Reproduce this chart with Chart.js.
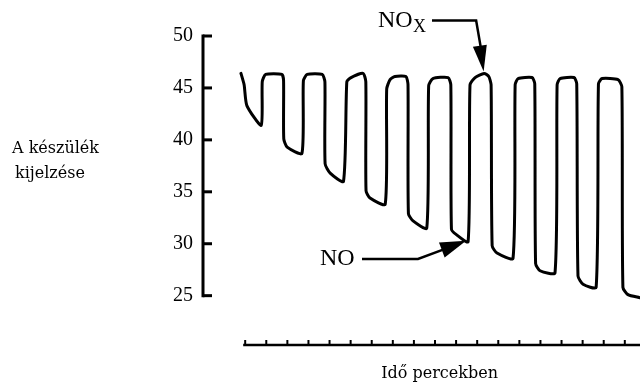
<!DOCTYPE html>
<html><head><meta charset="utf-8">
<script src="https://cdn.jsdelivr.net/npm/chart.js@4/dist/chart.umd.min.js"></script>
<style>html,body{margin:0;padding:0;background:#fff;}#wrap{width:640px;height:385px;position:relative;}</style>
</head><body><div id="wrap"><canvas id="c" width="640" height="385"></canvas></div>
<script>
// Time in minutes (x) and instrument reading (y)
const timeMinutes = [-0.20,-0.05,0.08,0.76,0.81,0.97,1.74,1.82,1.83,1.99,2.69,2.76,2.94,3.65,3.78,3.79,4.03,4.66,4.82,5.02,5.59,5.72,5.73,5.92,6.64,6.71,6.87,7.10,7.62,7.72,7.74,7.96,8.61,8.70,8.90,9.62,9.75,9.78,10.00,10.57,10.66,10.90,11.33,11.55,11.66,11.71,11.94,12.70,12.80,12.94,13.60,13.73,13.77,13.98,14.69,14.79,14.93,15.59,15.72,15.78,16.02,16.64,16.75,16.92,17.68,17.86,17.91,18.15,18.72];
const readings = [46.4,45.3,43.3,41.4,45.6,46.3,46.3,45.7,40.1,39.3,38.7,45.7,46.3,46.3,45.6,37.7,36.8,36.0,45.6,46.0,46.4,45.6,35.1,34.4,33.8,44.9,45.8,46.1,46.1,45.3,32.9,32.2,31.5,45.2,45.9,46.0,45.3,31.4,30.9,30.2,45.3,46.0,46.4,46.1,45.3,29.8,29.1,28.6,45.3,45.9,46.0,45.4,28.1,27.4,27.2,45.3,45.9,46.0,45.4,26.9,26.1,25.8,45.4,45.9,45.8,45.1,25.8,25.1,24.8];
const yTickLabels = [25,30,35,40,45,50];
const xTickMinutes = [0,1,2,3,4,5,6,7,8,9,10,11,12,13,14,15,16,17,18];
const yAxisLabel = ['A készülék','kijelzése'];
const xAxisLabel = 'Idő percekben';
const noxLabel = 'NO', noxSub = 'X';
const noLabel = 'NO';
const noxPointIndex = 42;
const noPointIndex = 39;

function arrowHead(ctx, fx, fy, tx, ty, len, hw){
  const a = Math.atan2(ty-fy, tx-fx);
  const bx = tx - len*Math.cos(a), by = ty - len*Math.sin(a);
  ctx.beginPath();
  ctx.moveTo(tx, ty);
  ctx.lineTo(bx + hw*Math.sin(a), by - hw*Math.cos(a));
  ctx.lineTo(bx - hw*Math.sin(a), by + hw*Math.cos(a));
  ctx.closePath();
  ctx.fill();
}

const decor = {
  id: 'decor',
  afterDraw(chart){
    const {ctx, chartArea} = chart;
    const x = chart.scales.x, y = chart.scales.y;
    ctx.save();
    ctx.strokeStyle = '#000'; ctx.fillStyle = '#000';
    // y axis line and inward ticks
    const ax = chartArea.left;
    ctx.lineWidth = 3;
    ctx.beginPath();
    ctx.moveTo(ax, y.getPixelForValue(yTickLabels[yTickLabels.length-1]) - 1.5);
    ctx.lineTo(ax, y.getPixelForValue(yTickLabels[0]) + 1.5);
    ctx.stroke();
    yTickLabels.forEach(v => {
      const py = y.getPixelForValue(v);
      ctx.beginPath(); ctx.moveTo(ax, py); ctx.lineTo(ax + 9, py); ctx.stroke();
    });
    // time axis
    const by = chartArea.bottom;
    ctx.lineWidth = 2.5;
    ctx.beginPath();
    ctx.moveTo(x.getPixelForValue(xTickMinutes[0]) - 2, by);
    ctx.lineTo(chartArea.right, by);
    ctx.stroke();
    ctx.lineWidth = 2;
    xTickMinutes.forEach(m => {
      const px = x.getPixelForValue(m);
      ctx.beginPath(); ctx.moveTo(px, by); ctx.lineTo(px, by - 5); ctx.stroke();
    });
    // axis labels
    ctx.font = '16px "DejaVu Serif"';
    ctx.textAlign = 'left'; ctx.textBaseline = 'alphabetic';
    ctx.fillText(yAxisLabel[0], 12, 153);
    ctx.fillText(yAxisLabel[1], 15, 178);
    ctx.textAlign = 'center';
    ctx.fillText(xAxisLabel, (x.getPixelForValue(xTickMinutes[0]) + chartArea.right)/2 - 3, 378);
    // NOx annotation
    const pNox = {x: x.getPixelForValue(timeMinutes[noxPointIndex]), y: y.getPixelForValue(readings[noxPointIndex])};
    ctx.textAlign = 'left';
    ctx.font = '24px "Liberation Serif"';
    ctx.fillText(noxLabel, 378, 27);
    ctx.font = '18px "Liberation Serif"';
    ctx.fillText(noxSub, 413, 32);
    ctx.lineWidth = 2.5;
    ctx.beginPath();
    ctx.moveTo(432, 20.5);
    ctx.lineTo(pNox.x - 8, 20.5);
    ctx.lineTo(pNox.x - 2, pNox.y - 18);
    ctx.stroke();
    arrowHead(ctx, pNox.x - 8, 20.5, pNox.x - 0.5, pNox.y - 2, 26, 7);
    // NO annotation
    const pNo = {x: x.getPixelForValue(timeMinutes[noPointIndex]), y: y.getPixelForValue(readings[noPointIndex])};
    ctx.font = '24px "Liberation Serif"';
    ctx.fillText(noLabel, 320, 265);
    ctx.lineWidth = 2.5;
    ctx.beginPath();
    ctx.moveTo(362, 259);
    ctx.lineTo(418, 259);
    ctx.lineTo(pNo.x - 25, pNo.y + 8);
    ctx.stroke();
    arrowHead(ctx, 418, 259, pNo.x - 2, pNo.y - 1, 26, 8);
    ctx.restore();
  }
};

new Chart(document.getElementById('c'), {
  type: 'line',
  data: {
    datasets: [{
      data: timeMinutes.map((t, i) => ({x: t, y: readings[i]})),
      borderColor: '#000',
      borderWidth: 3,
      pointRadius: 0,
      tension: 0.2,
      fill: false,
      clip: false,
      borderJoinStyle: 'round',
      borderCapStyle: 'round'
    }]
  },
  options: {
    responsive: false,
    animation: false,
    devicePixelRatio: 1,
    layout: {padding: {top: 36, bottom: 40, left: 0, right: 0}},
    plugins: {legend: {display: false}, tooltip: {enabled: false}},
    scales: {
      x: {type: 'linear', display: false, min: -2, max: 18.72},
      y: {
        type: 'linear', min: 20.25, max: 50,
        afterBuildTicks: s => { s.ticks = yTickLabels.map(v => ({value: v})); },
        afterFit: s => { s.width = 203; },
        grid: {display: false, drawTicks: false},
        border: {display: false},
        ticks: {color: '#000', padding: 10, font: {family: '"Liberation Serif"', size: 20}}
      }
    }
  },
  plugins: [decor]
});
</script>
</body></html>
